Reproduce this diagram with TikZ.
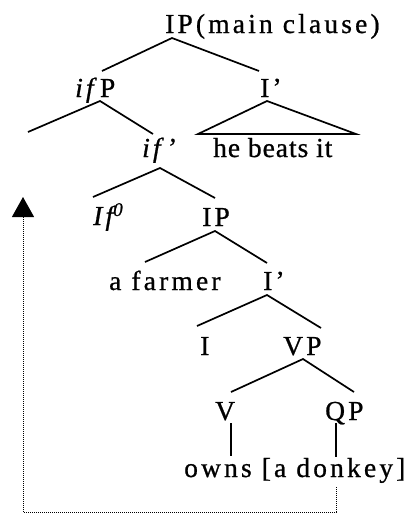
\documentclass[tikz,border=0pt]{standalone}
\usepackage{fontspec}
\setmainfont{Liberation Serif}[LetterSpace=11.5,FakeBold=0.8]
\newfontfamily\tightfont{Liberation Serif}[LetterSpace=3.5,FakeBold=0.8]
\usetikzlibrary{arrows.meta}
\begin{document}
\begin{tikzpicture}[x=1pt,y=-1pt,
  lbl/.style={anchor=base west,inner sep=0pt,font=\fontsize{27.5}{30}\selectfont},
  branch/.style={line width=1.7pt},
  movepath/.style={line width=1pt,dash pattern=on 1pt off 1pt,-{Triangle[width=22pt,length=20pt]}}]
\useasboundingbox (0,0) rectangle (419,523);
% labels
\node[lbl] (root) at (165,33) {IP(main clause)};
\node[lbl] (ifP) at (75,97) {\textit{if}P};
\node[lbl] (Ibar1) at (260,97) {I’};
\node[lbl] (ifbar) at (142,157) {\textit{if’}};
\node[lbl,font=\fontsize{27.5}{30}\selectfont\tightfont] (he) at (213,157) {he beats it};
\node[lbl] (If0) at (93,225) {\textit{If\textsuperscript{0}}};
\node[lbl] (IP2) at (202,226) {IP};
\node[lbl] (farmer) at (109,290) {a farmer};
\node[lbl] (Ibar2) at (263,290) {I’};
\node[lbl] (I) at (200,355) {I};
\node[lbl] (VP) at (283,355) {VP};
\node[lbl] (V) at (215,420) {V};
\node[lbl] (QP) at (325,420) {QP};
\node[lbl] (owns) at (184,477) {owns [a donkey]};
% branch points
\coordinate (rA) at (172,38);
\coordinate (rL) at (102,71);
\coordinate (rR) at (259,71);
\coordinate (fA) at (100,101);
\coordinate (fL) at (28,132);
\coordinate (fR) at (153,134);
\coordinate (tA) at (267,101);
\coordinate (tL) at (198,134);
\coordinate (tR) at (356,134);
\coordinate (bA) at (160,168);
\coordinate (bL) at (93,197);
\coordinate (bR) at (215,198);
\coordinate (pA) at (215,231);
\coordinate (pL) at (145,262);
\coordinate (pR) at (267,263);
\coordinate (iA) at (267,295);
\coordinate (iL) at (197,326);
\coordinate (iR) at (321,328);
\coordinate (vA) at (303,359);
\coordinate (vL) at (231,392);
\coordinate (vR) at (354,392);
\coordinate (vT) at (231,423);
\coordinate (vB) at (231,456);
\coordinate (qT) at (336,423);
\coordinate (qB) at (336,457);
\coordinate (m0) at (336,487);
\coordinate (m1) at (336,512);
\coordinate (m2) at (23,512);
\coordinate (m3) at (23,197);
% branches
\draw[branch] (rL) -- (rA) -- (rR);
\draw[branch] (fL) -- (fA) -- (fR);
\draw[branch] (tL) -- (tA) -- (tR) -- cycle;
\draw[branch] (bL) -- (bA) -- (bR);
\draw[branch] (pL) -- (pA) -- (pR);
\draw[branch] (iL) -- (iA) -- (iR);
\draw[branch] (vL) -- (vA) -- (vR);
\draw[branch] (vT) -- (vB);
\draw[branch] (qT) -- (qB);
% movement
\draw[movepath] (m0) -- (m1) -- (m2) -- (m3);
\end{tikzpicture}
\end{document}
